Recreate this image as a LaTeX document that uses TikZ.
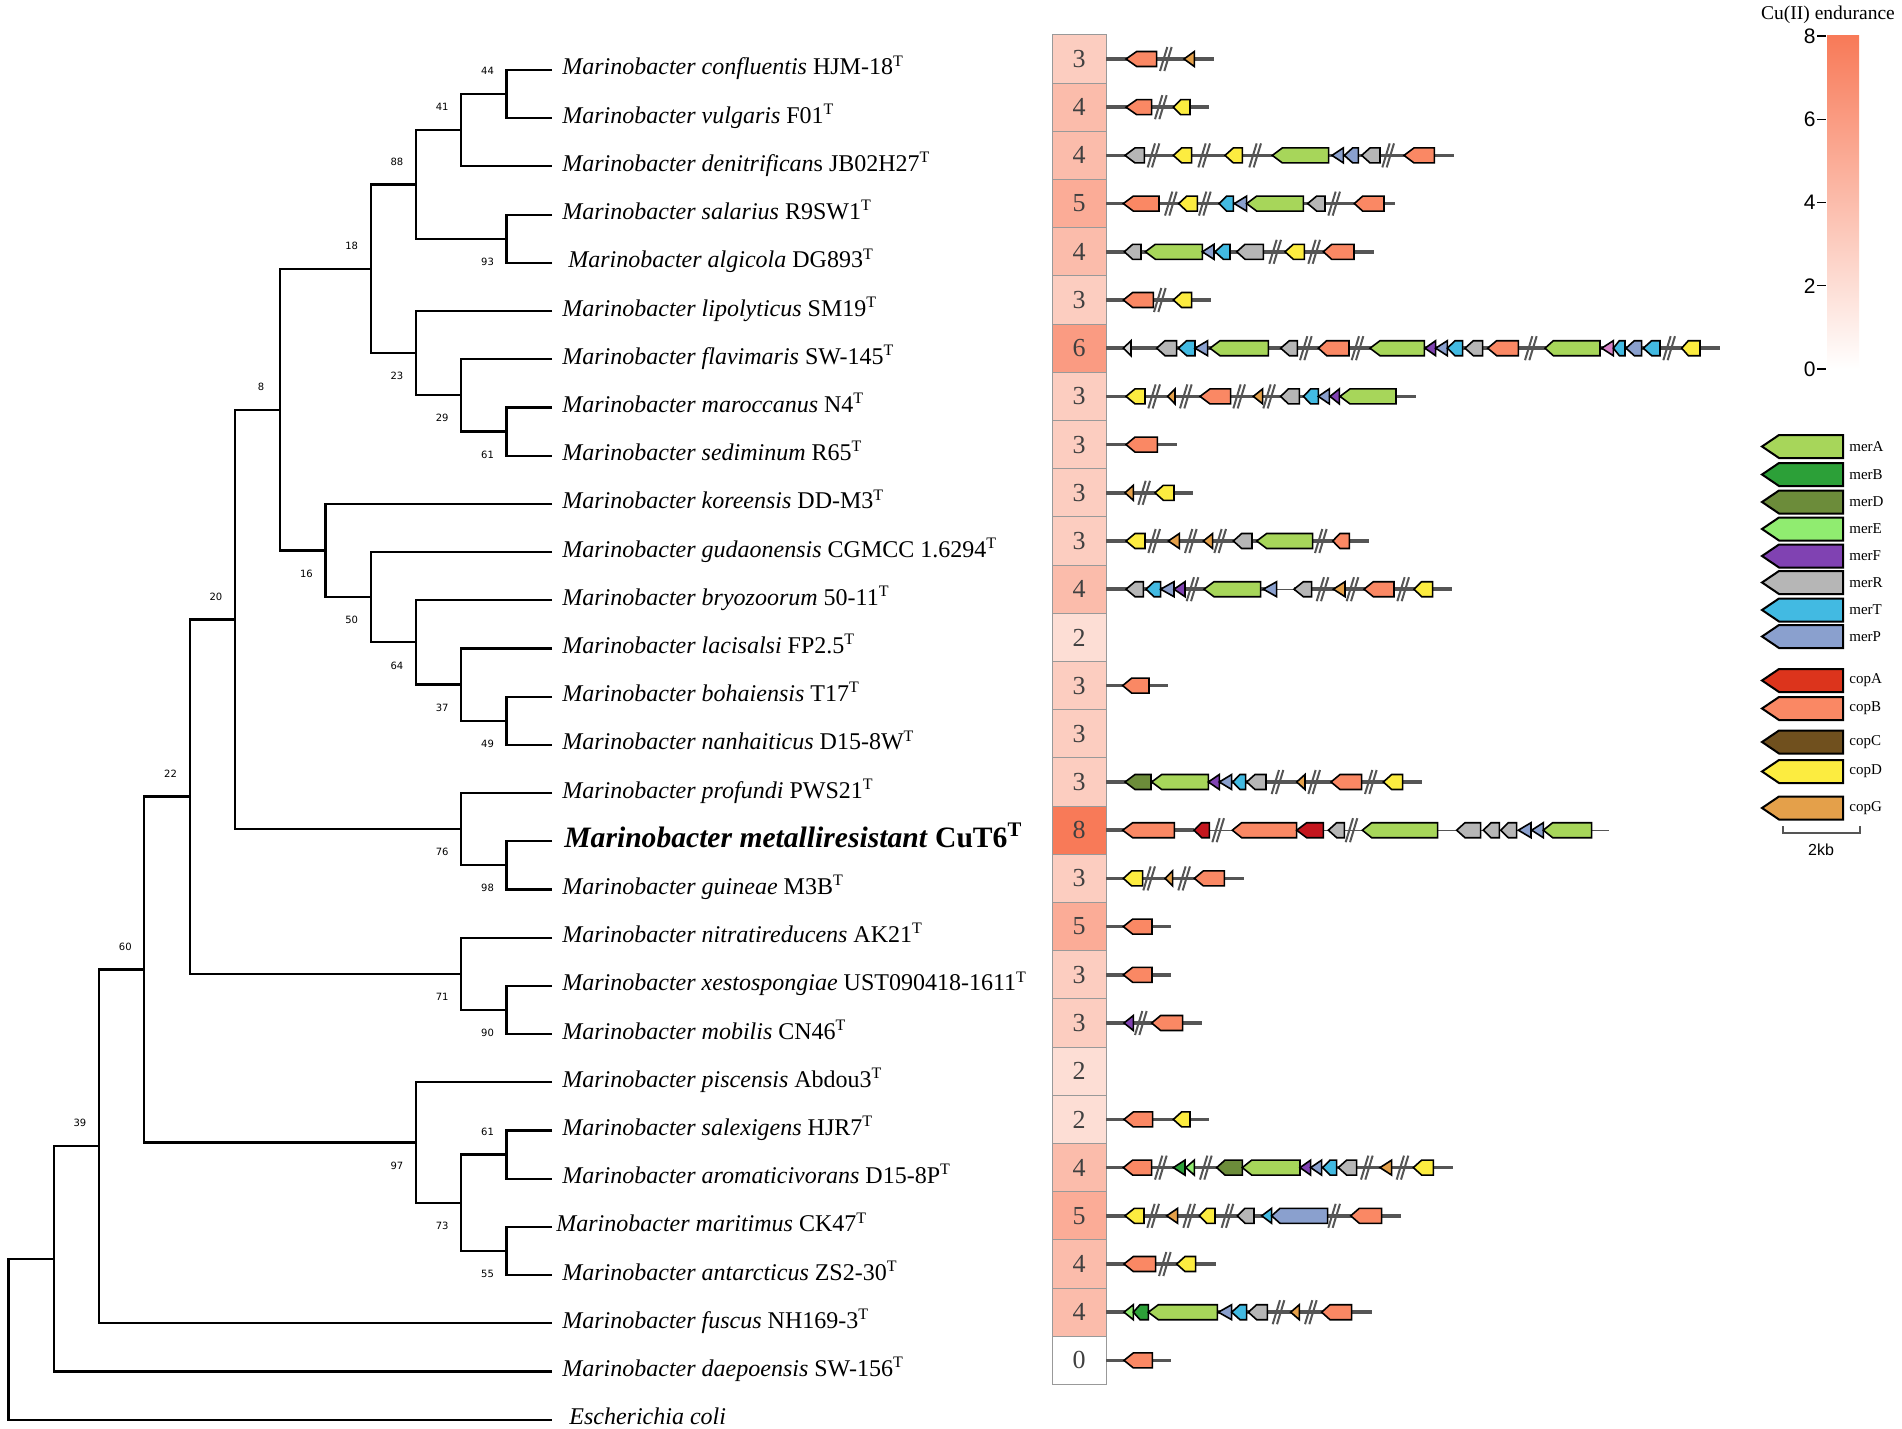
\documentclass[tikz,border=0pt]{standalone}
\usepackage{fontspec}
\setmainfont{Liberation Serif}
\newfontfamily\sansfont{Liberation Sans}
\newfontfamily\bootfont{DejaVu Sans}
\usetikzlibrary{calc}
\definecolor{coral}{RGB}{248,122,88}
\definecolor{merA}{RGB}{167,214,90}
\definecolor{merB}{RGB}{44,160,56}
\definecolor{merD}{RGB}{108,140,58}
\definecolor{merE}{RGB}{144,236,112}
\definecolor{merF}{RGB}{128,66,178}
\definecolor{merR}{RGB}{182,182,182}
\definecolor{merT}{RGB}{66,186,226}
\definecolor{merP}{RGB}{138,160,206}
\definecolor{copA}{RGB}{220,52,28}
\definecolor{copAd}{RGB}{196,22,30}
\definecolor{copB}{RGB}{250,136,100}
\definecolor{copC}{RGB}{112,80,30}
\definecolor{copD}{RGB}{252,236,64}
\definecolor{copG}{RGB}{228,160,74}
\definecolor{pinkg}{RGB}{216,130,200}
\definecolor{trk}{RGB}{85,85,85}
\definecolor{celltxt}{RGB}{64,64,64}
\newcommand\GeneA[4]{\draw[gene,fill=#4] (#1,0) -- (#2,-7.5) -- (#3,-7.5) -- (#3,7.5) -- (#2,7.5) -- cycle;}
\newcommand\GeneT[3]{\draw[gene,fill=#3] (#1,0) -- (#2,-7.5) -- (#2,7.5) -- cycle;}
\newcommand\GeneBrk[1]{\draw[brkline] ({#1-20},12) -- ({#1+2},-12) ({#1-7},12) -- ({#1+15},-12);}
\newcommand\Track[1]{\draw[trackline] (198,0) -- (#1,0);}
\newcommand\GRow[2]{\begin{scope}[shift={(1040,#1)},xscale=0.333333]#2\end{scope}}
\begin{document}
\begin{tikzpicture}[x=0.5pt,y=-0.5pt,
  tree/.style={draw=black,line width=1.1pt,line join=miter},
  leaf/.style={anchor=base west,inner sep=0pt,font=\fontsize{12}{14}\selectfont},
  boot/.style={inner sep=0pt,font=\bootfont\fontsize{5}{5}\selectfont},
  cell/.style={draw=black!40,line width=0.5pt,minimum width=27pt,minimum height=24.1pt,inner sep=0pt,text=celltxt,font=\fontsize{13}{13}\selectfont},
  gene/.style={draw=black,line width=0.8pt},
  trackline/.style={draw=trk,line width=1.8pt},
  thintrack/.style={draw=trk,line width=0.7pt},
  brkline/.style={draw=trk,line width=1pt},
  leglab/.style={anchor=west,inner sep=0pt,font=\fontsize{7.5}{8}\selectfont},
  ticklab/.style={anchor=east,inner sep=0pt,font=\sansfont\fontsize{10.5}{11}\selectfont}]
\fill[white] (0,0) rectangle (1902,1429);
\useasboundingbox (0,0) rectangle (1902,1429);

% ---------- tree ----------
\foreach \i in {0,...,28} { \coordinate (t\i) at (552,{70+48.2*\i}); }
\coordinate (n44) at (506.5,94.1);
\coordinate (n41) at (461.2,130.25);
\coordinate (n93) at (506.5,238.7);
\coordinate (n88) at (415.9,184.48);
\coordinate (n61a) at (506.5,431.5);
\coordinate (n29) at (461.2,395.35);
\coordinate (n23) at (415.9,353.18);
\coordinate (n18) at (370.7,268.83);
\coordinate (n49) at (506.5,720.7);
\coordinate (n37) at (461.2,684.55);
\coordinate (n64) at (415.9,642.38);
\coordinate (n50) at (370.7,597.19);
\coordinate (n16) at (325.4,550.5);
\coordinate (n8) at (280.1,409.66);
\coordinate (n98) at (506.5,865.3);
\coordinate (n76) at (461.2,829.15);
\coordinate (n20) at (234.9,619.4);
\coordinate (n90) at (506.5,1009.9);
\coordinate (n71) at (461.2,973.75);
\coordinate (n22) at (189.6,796.58);
\coordinate (n61b) at (506.5,1154.5);
\coordinate (n55) at (506.5,1250.9);
\coordinate (n73) at (461.2,1202.7);
\coordinate (n97) at (415.9,1142.45);
\coordinate (n60) at (144.3,969.5);
\coordinate (n39) at (99.0,1146.35);
\coordinate (nr1) at (53.8,1258.9);
\coordinate (nr0) at (8.5,1339.25);

\draw[tree] (t0) -| (n44) |- (t1);
\draw[tree] (n44) -| (n41) |- (t2);
\draw[tree] (t3) -| (n93) |- (t4);
\draw[tree] (n41) -| (n88) |- (n93);
\draw[tree] (t7) -| (n61a) |- (t8);
\draw[tree] (t6) -| (n29) |- (n61a);
\draw[tree] (t5) -| (n23) |- (n29);
\draw[tree] (n88) -| (n18) |- (n23);
\draw[tree] (t13) -| (n49) |- (t14);
\draw[tree] (t12) -| (n37) |- (n49);
\draw[tree] (t11) -| (n64) |- (n37);
\draw[tree] (t10) -| (n50) |- (n64);
\draw[tree] (t9) -| (n16) |- (n50);
\draw[tree] (n18) -| (n8) |- (n16);
\draw[tree] (t16) -| (n98) |- (t17);
\draw[tree] (t15) -| (n76) |- (n98);
\draw[tree] (n8) -| (n20) |- (n76);
\draw[tree] (t19) -| (n90) |- (t20);
\draw[tree] (t18) -| (n71) |- (n90);
\draw[tree] (n20) -| (n22) |- (n71);
\draw[tree] (t22) -| (n61b) |- (t23);
\draw[tree] (t24) -| (n55) |- (t25);
\draw[tree] (n61b) -| (n73) |- (n55);
\draw[tree] (t21) -| (n97) |- (n73);
\draw[tree] (n22) -| (n60) |- (n97);
\draw[tree] (n60) -| (n39) |- (t26);
\draw[tree] (n39) -| (nr1) |- (t27);
\draw[tree] (nr1) -| (nr0) |- (t28);

% bootstrap values
\node[boot] (b44) at ($(n44)+(-19,-23)$) {44};
\node[boot] (b41) at ($(n41)+(-19,-23)$) {41};
\node[boot] (b88) at ($(n88)+(-19,-23)$) {88};
\node[boot] (b18) at ($(n18)+(-19,-23)$) {18};
\node[boot] (b8) at ($(n8)+(-19,-23)$) {8};
\node[boot] (b20) at ($(n20)+(-19,-23)$) {20};
\node[boot] (b22) at ($(n22)+(-19,-23)$) {22};
\node[boot] (b60) at ($(n60)+(-19,-23)$) {60};
\node[boot] (b39) at ($(n39)+(-19,-23)$) {39};
\node[boot] (b61b) at ($(n61b)+(-19,-23)$) {61};
\node[boot] (b93) at ($(n93)+(-19,23)$) {93};
\node[boot] (b23) at ($(n23)+(-19,23)$) {23};
\node[boot] (b29) at ($(n29)+(-19,23)$) {29};
\node[boot] (b61a) at ($(n61a)+(-19,23)$) {61};
\node[boot] (b16) at ($(n16)+(-19,23)$) {16};
\node[boot] (b50) at ($(n50)+(-19,23)$) {50};
\node[boot] (b64) at ($(n64)+(-19,23)$) {64};
\node[boot] (b37) at ($(n37)+(-19,23)$) {37};
\node[boot] (b49) at ($(n49)+(-19,23)$) {49};
\node[boot] (b76) at ($(n76)+(-19,23)$) {76};
\node[boot] (b98) at ($(n98)+(-19,23)$) {98};
\node[boot] (b71) at ($(n71)+(-19,23)$) {71};
\node[boot] (b90) at ($(n90)+(-19,23)$) {90};
\node[boot] (b97) at ($(n97)+(-19,23)$) {97};
\node[boot] (b73) at ($(n73)+(-19,23)$) {73};
\node[boot] (b55) at ($(n55)+(-19,23)$) {55};

% leaf labels
\node[leaf] (L0) at (562,{75+48.2*0}) {\textit{Marinobacter confluentis} HJM-18\textsuperscript{T}};
\node[leaf] (L1) at (562,{75+48.2*1}) {\textit{Marinobacter vulgaris} F01\textsuperscript{T}};
\node[leaf] (L2) at (562,{75+48.2*2}) {\textit{Marinobacter denitrifican}s JB02H27\textsuperscript{T}};
\node[leaf] (L3) at (562,{75+48.2*3}) {\textit{Marinobacter salarius} R9SW1\textsuperscript{T}};
\node[leaf] (L4) at (568,{75+48.2*4}) {\textit{Marinobacter algicola} DG893\textsuperscript{T}};
\node[leaf] (L5) at (562,{75+48.2*5}) {\textit{Marinobacter lipolyticus} SM19\textsuperscript{T}};
\node[leaf] (L6) at (562,{75+48.2*6}) {\textit{Marinobacter flavimaris} SW-145\textsuperscript{T}};
\node[leaf] (L7) at (562,{75+48.2*7}) {\textit{Marinobacter maroccanus} N4\textsuperscript{T}};
\node[leaf] (L8) at (562,{75+48.2*8}) {\textit{Marinobacter sediminum} R65\textsuperscript{T}};
\node[leaf] (L9) at (562,{75+48.2*9}) {\textit{Marinobacter koreensis} DD-M3\textsuperscript{T}};
\node[leaf] (L10) at (562,{75+48.2*10}) {\textit{Marinobacter gudaonensis} CGMCC 1.6294\textsuperscript{T}};
\node[leaf] (L11) at (562,{75+48.2*11}) {\textit{Marinobacter bryozoorum} 50-11\textsuperscript{T}};
\node[leaf] (L12) at (562,{75+48.2*12}) {\textit{Marinobacter lacisalsi} FP2.5\textsuperscript{T}};
\node[leaf] (L13) at (562,{75+48.2*13}) {\textit{Marinobacter bohaiensis} T17\textsuperscript{T}};
\node[leaf] (L14) at (562,{75+48.2*14}) {\textit{Marinobacter nanhaiticus} D15-8W\textsuperscript{T}};
\node[leaf] (L15) at (562,{75+48.2*15}) {\textit{Marinobacter profundi} PWS21\textsuperscript{T}};
\node[leaf,font=\fontsize{14.8}{16}\selectfont\bfseries] (L16) at (564,{76+48.2*16}) {\textit{Marinobacter metalliresistant} CuT6\textsuperscript{T}};
\node[leaf] (L17) at (562,{75+48.2*17}) {\textit{Marinobacter guineae} M3B\textsuperscript{T}};
\node[leaf] (L18) at (562,{75+48.2*18}) {\textit{Marinobacter nitratireducens} AK21\textsuperscript{T}};
\node[leaf] (L19) at (562,{75+48.2*19}) {\textit{Marinobacter xestospongiae} UST090418-1611\textsuperscript{T}};
\node[leaf] (L20) at (562,{75+48.2*20}) {\textit{Marinobacter mobilis} CN46\textsuperscript{T}};
\node[leaf] (L21) at (562,{75+48.2*21}) {\textit{Marinobacter piscensis} Abdou3\textsuperscript{T}};
\node[leaf] (L22) at (562,{75+48.2*22}) {\textit{Marinobacter salexigens} HJR7\textsuperscript{T}};
\node[leaf] (L23) at (562,{75+48.2*23}) {\textit{Marinobacter aromaticivorans} D15-8P\textsuperscript{T}};
\node[leaf] (L24) at (556,{75+48.2*24}) {\textit{Marinobacter maritimus} CK47\textsuperscript{T}};
\node[leaf] (L25) at (562,{75+48.2*25}) {\textit{Marinobacter antarcticus} ZS2-30\textsuperscript{T}};
\node[leaf] (L26) at (562,{75+48.2*26}) {\textit{Marinobacter fuscus} NH169-3\textsuperscript{T}};
\node[leaf] (L27) at (562,{75+48.2*27}) {\textit{Marinobacter daepoensis} SW-156\textsuperscript{T}};
\node[leaf] (L28) at (569,{75+48.2*28}) {\textit{Escherichia coli}};

% ---------- heatmap ----------
\foreach \i/\v in {0/3,1/4,2/4,3/5,4/4,5/3,6/6,7/3,8/3,9/3,10/3,11/4,12/2,13/3,14/3,15/3,16/8,17/3,18/5,19/3,20/3,21/2,22/2,23/4,24/5,25/4,26/4,27/0} {
  \pgfmathsetmacro\pc{\v*12.5}
  \node[cell,fill=coral!\pc!white] (h\i) at (1079,{59+48.2*\i}) {\v};
}

% ---------- gene clusters ----------
\GRow{59}{\Track{522}
\GeneA{258}{290}{350}{copB}\GeneBrk{380}\GeneT{432}{463}{copG}}
\GRow{107.2}{\Track{508}
\GeneA{258}{290}{335}{copB}\GeneBrk{365}\GeneA{400}{422}{450}{copD}}
\GRow{155.4}{\Track{1243}
\GeneA{255}{285}{313}{merR}\GeneBrk{343}\GeneA{400}{425}{455}{copD}\GeneBrk{495}
\GeneA{555}{580}{607}{copD}\GeneBrk{648}\GeneA{697}{727}{866}{merA}\GeneT{876}{910}{merP}
\GeneA{913}{938}{955}{merP}\GeneA{965}{990}{1020}{merR}\GeneBrk{1047}\GeneA{1092}{1122}{1183}{copB}}
\GRow{203.6}{\Track{1065}
\GeneA{250}{280}{357}{copB}\GeneBrk{395}\GeneA{416}{440}{472}{copD}\GeneBrk{497}
\GeneA{537}{560}{580}{merT}\GeneT{583}{620}{merP}\GeneA{620}{650}{790}{merA}
\GeneA{803}{830}{855}{merR}\GeneBrk{885}\GeneA{943}{968}{1032}{copB}}
\GRow{251.8}{\Track{1002}
\GeneA{253}{278}{303}{merR}\GeneA{316}{346}{487}{merA}\GeneT{487}{522}{merP}
\GeneA{525}{550}{570}{merT}\GeneA{590}{615}{670}{merR}\GeneBrk{708}
\GeneA{735}{760}{793}{copD}\GeneBrk{825}\GeneA{850}{875}{942}{copB}}
\GRow{300}{\Track{513}
\GeneA{250}{278}{340}{copB}\GeneBrk{362}\GeneA{400}{425}{455}{copD}}
\GRow{348.2}{\Track{2040}
\GeneT{250}{273}{merR!50!white}\GeneA{350}{375}{410}{merR}\GeneA{415}{440}{465}{merT}
\GeneT{465}{503}{merP}\GeneA{510}{540}{685}{merA}\GeneA{722}{748}{772}{merR}\GeneBrk{800}
\GeneA{835}{860}{927}{copB}\GeneBrk{955}\GeneA{990}{1020}{1153}{merA}\GeneT{1155}{1187}{merF}
\GeneT{1187}{1222}{merP}\GeneA{1222}{1245}{1268}{merT}\GeneA{1275}{1300}{1328}{merR}
\GeneA{1343}{1370}{1435}{copB}\GeneBrk{1475}\GeneA{1515}{1540}{1680}{merA}\GeneT{1685}{1720}{pinkg}
\GeneA{1720}{1738}{1755}{merT}\GeneA{1758}{1783}{1805}{merP}\GeneA{1810}{1835}{1860}{merT}
\GeneBrk{1890}\GeneA{1925}{1945}{1980}{copD}}
\GRow{396.4}{\Track{1128}
\GeneA{258}{285}{315}{copD}\GeneBrk{345}\GeneT{383}{405}{copG}\GeneBrk{440}
\GeneA{480}{510}{572}{copB}\GeneBrk{600}\GeneT{640}{668}{copG}\GeneBrk{690}
\GeneA{722}{745}{778}{merR}\GeneA{790}{812}{835}{merT}\GeneT{835}{868}{merP}
\GeneT{870}{898}{merF}\GeneA{900}{930}{1068}{merA}}
\GRow{444.6}{\Track{410}
\GeneA{258}{285}{352}{copB}}
\GRow{492.8}{\Track{460}
\GeneT{255}{280}{copG}\GeneBrk{315}\GeneA{345}{370}{402}{copD}}
\GRow{541}{\Track{988}
\GeneA{258}{285}{315}{copD}\GeneBrk{345}\GeneT{385}{418}{copG}\GeneBrk{455}
\GeneT{490}{518}{copG}\GeneBrk{543}\GeneA{580}{605}{636}{merR}\GeneA{650}{680}{818}{merA}
\GeneBrk{845}\GeneA{878}{900}{928}{copB}}
\GRow{589.2}{\draw[trackline] (198,0) -- (710,0);\draw[thintrack] (710,0) -- (762,0);\draw[trackline] (762,0) -- (1237,0);
\GeneA{258}{285}{310}{merR}\GeneA{318}{342}{362}{merT}\GeneT{362}{402}{merP}\GeneT{402}{435}{merF}
\GeneBrk{460}\GeneA{492}{522}{662}{merA}\GeneT{670}{710}{merP}\GeneA{762}{790}{815}{merR}
\GeneBrk{850}\GeneT{880}{915}{copG}\GeneBrk{940}\GeneA{972}{1000}{1062}{copB}\GeneBrk{1092}
\GeneA{1122}{1145}{1178}{copD}}
\GRow{685.6}{\Track{383}
\GeneA{248}{275}{327}{copB}}
\GRow{782}{\Track{1147}
\GeneA{255}{285}{333}{merD}\GeneA{335}{365}{505}{merA}\GeneT{505}{538}{merF}\GeneT{538}{575}{merP}
\GeneA{578}{600}{617}{merT}\GeneA{620}{645}{678}{merR}\GeneBrk{715}\GeneT{770}{795}{copG}
\GeneBrk{825}\GeneA{873}{900}{965}{copB}\GeneBrk{995}\GeneA{1030}{1055}{1088}{copD}}
\GRow{830.2}{\draw[trackline] (198,0) -- (462,0);\draw[thintrack] (462,0) -- (1708,0);
\GeneA{248}{278}{403}{copB}\GeneA{462}{485}{508}{copAd}\GeneBrk{537}\GeneA{577}{605}{770}{copB}
\GeneA{770}{800}{850}{copAd}\GeneA{865}{890}{913}{merR}\GeneBrk{937}\GeneA{967}{995}{1193}{merA}
\GeneA{1250}{1275}{1322}{merR}\GeneA{1330}{1353}{1378}{merR}\GeneA{1382}{1405}{1430}{merR}
\GeneT{1435}{1473}{merP}\GeneT{1475}{1510}{merP}\GeneA{1510}{1538}{1655}{merA}}
\GRow{878.4}{\Track{612}
\GeneA{250}{275}{308}{copD}\GeneBrk{330}\GeneT{375}{398}{copG}\GeneBrk{435}\GeneA{463}{490}{553}{copB}}
\GRow{926.6}{\Track{393}
\GeneA{250}{278}{336}{copB}}
\GRow{974.8}{\Track{393}
\GeneA{250}{278}{336}{copB}}
\GRow{1023}{\Track{487}
\GeneT{252}{280}{merF}\GeneBrk{305}\GeneA{335}{362}{428}{copB}}
\GRow{1119.4}{\Track{507}
\GeneA{252}{280}{338}{copB}\GeneA{400}{425}{450}{copD}}
\GRow{1167.6}{\Track{1240}
\GeneA{250}{278}{335}{copB}\GeneBrk{365}\GeneT{400}{435}{merB}\GeneT{437}{463}{merE}\GeneBrk{500}
\GeneA{530}{555}{607}{merD}\GeneA{607}{635}{780}{merA}\GeneT{780}{812}{merF}\GeneT{812}{845}{merP}
\GeneA{848}{870}{890}{merT}\GeneA{895}{920}{950}{merR}\GeneBrk{983}\GeneT{1020}{1055}{copG}
\GeneBrk{1090}\GeneA{1120}{1145}{1180}{copD}}
\GRow{1215.8}{\Track{1083}
\GeneA{255}{283}{312}{copD}\GeneBrk{342}\GeneT{380}{413}{copG}\GeneBrk{450}
\GeneA{478}{500}{525}{copD}\GeneBrk{565}\GeneA{592}{615}{642}{merR}\GeneT{665}{695}{merT}
\GeneA{695}{720}{863}{merP}\GeneBrk{885}\GeneA{932}{958}{1025}{copB}}
\GRow{1264}{\Track{527}
\GeneA{252}{280}{347}{copB}\GeneBrk{377}\GeneA{410}{435}{467}{copD}}
\GRow{1312.2}{\Track{995}
\GeneT{252}{280}{merE}\GeneA{280}{300}{325}{merB}\GeneA{325}{355}{532}{merA}\GeneT{535}{575}{merP}
\GeneA{575}{600}{620}{merT}\GeneA{625}{650}{682}{merR}\GeneBrk{718}\GeneT{752}{778}{copG}
\GeneBrk{815}\GeneA{845}{870}{935}{copB}}
\GRow{1360.4}{\Track{393}
\GeneA{252}{280}{337}{copB}}

% ---------- colour bar ----------
\node[inner sep=0pt,font=\fontsize{9.75}{10}\selectfont] (cbtitle) at (1828,15) {Cu(II) endurance};
\shade[top color=coral,bottom color=white] (1827,36) rectangle (1859,369);
\foreach \v/\yy in {8/36,6/119.25,4/202.5,2/285.75,0/369} {
  \draw[black,line width=0.6pt] (1817,\yy) -- (1826,\yy);
  \node[ticklab] (cb\v) at (1816,\yy) {\v};
}

% ---------- legend ----------
\foreach \c/\yy in {merA/446.5,merB/474.5,merD/502,merE/529,merF/556,merR/582.5,merT/610,merP/636.5,copA/680.5,copB/708.5,copC/742,copD/771.5,copG/808} {
  \draw[gene,line width=1pt,fill=\c] (1762,\yy) -- (1779,{\yy-11.5}) -- (1843,{\yy-11.5}) -- (1843,{\yy+11.5}) -- (1779,{\yy+11.5}) -- cycle;
  \node[leglab] (lg\c) at (1849,\yy) {\c};
}
\draw[trk,line width=1.3pt] (1783,826) -- (1783,833) -- (1860,833) -- (1860,826);
\node[inner sep=0pt,font=\sansfont\fontsize{8}{9}\selectfont] (scalelab) at (1821,850) {2kb};
\end{tikzpicture}
\end{document}
